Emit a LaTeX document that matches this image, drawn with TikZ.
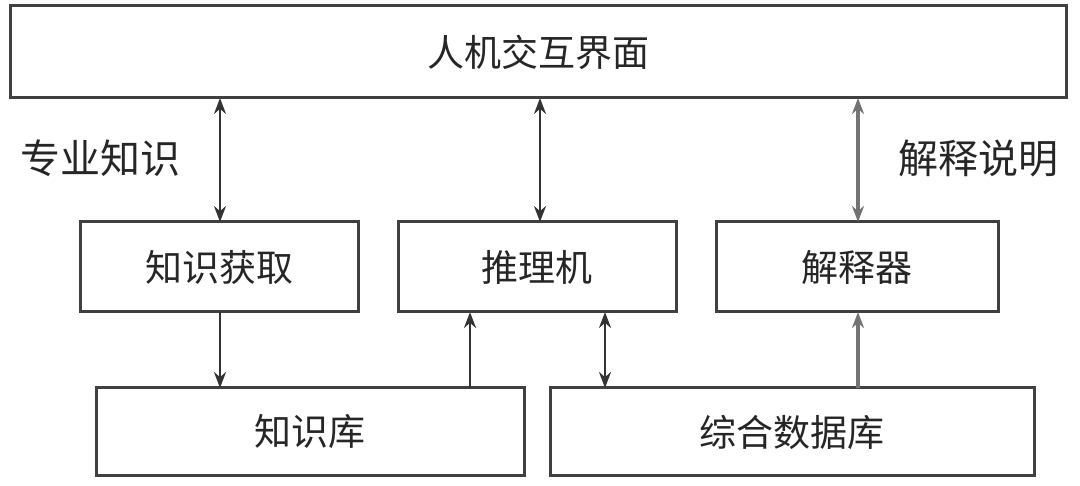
\documentclass[tikz,border=0pt]{standalone}
\usepackage{fontspec}
\setmainfont{Noto Sans CJK SC}
\usetikzlibrary{arrows.meta}
\begin{document}
\begin{tikzpicture}[x=1pt,y=-1pt,
  bx/.style={draw=black!75,line width=3pt,fill=white},
  lb/.style={font=\fontsize{37}{39}\selectfont,text=black!85},
  ar/.style={draw=black!80,line width=2.6pt,-{Stealth[length=16pt,width=12pt]}},
  dar/.style={draw=black!80,line width=2.6pt,{Stealth[length=16pt,width=12pt]}-{Stealth[length=16pt,width=12pt]}}]
\useasboundingbox (0,0) rectangle (1080,486);
\draw[bx] (10,6) rectangle (1066,98);
\node[lb] (top) at (538,52) {人机交互界面};
\draw[bx] (80,222) rectangle (358,312);
\node[lb] (zs) at (219,267) {知识获取};
\draw[bx] (398,222) rectangle (676,312);
\node[lb] (tl) at (537,267) {推理机};
\draw[bx] (716,222) rectangle (998,312);
\node[lb] (js) at (857,267) {解释器};
\draw[bx] (96,388) rectangle (524,476);
\node[lb] (zk) at (310,432) {知识库};
\draw[bx] (550,388) rectangle (1034,476);
\node[lb] (db) at (792,432) {综合数据库};
\coordinate (a1) at (220,98); \coordinate (a2) at (220,222);
\coordinate (b1) at (540,98); \coordinate (b2) at (540,222);
\coordinate (c1) at (858,98); \coordinate (c2) at (858,222);
\coordinate (d1) at (220,312); \coordinate (d2) at (220,388);
\coordinate (e1) at (470,388); \coordinate (e2) at (470,312);
\coordinate (f1) at (605,312); \coordinate (f2) at (605,388);
\coordinate (g1) at (858,388); \coordinate (g2) at (858,312);
\draw[dar] (a1) -- (a2);
\draw[dar] (b1) -- (b2);
\draw[dar,line width=4.5pt,draw=black!55] (c1) -- (c2);
\draw[ar] (d1) -- (d2);
\draw[ar] (e1) -- (e2);
\draw[dar] (f1) -- (f2);
\draw[ar,line width=4.5pt,draw=black!55] (g1) -- (g2);
\node[lb,font=\fontsize{40}{42}\selectfont] (l1) at (100,158) {专业知识};
\node[lb,font=\fontsize{40}{42}\selectfont] (l2) at (978,158) {解释说明};
\end{tikzpicture}
\end{document}
